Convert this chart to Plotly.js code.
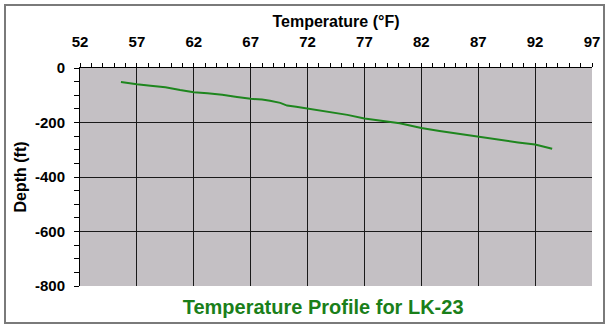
<!DOCTYPE html>
<html><head><meta charset="utf-8">
<script src="https://cdn.plot.ly/plotly-3.0.1.min.js"></script>
<style>html,body{margin:0;padding:0;background:#fff}#chart{width:612px;height:331px}</style>
</head><body><div id="chart"></div>
<script>
const temperatureF = [55.6, 56.3, 57.0, 58.2, 59.5, 60.8, 62.0, 63.2, 64.5, 65.8, 67.0, 68.0, 68.7, 69.6, 70.2, 71.0, 72.0, 73.2, 74.4, 75.5, 77.0, 78.5, 80.1, 81.0, 82.0, 83.6, 85.4, 87.0, 88.0, 89.2, 90.5, 92.0, 92.8, 93.5];
const depthFt =      [-51, -56, -60, -65, -71, -81, -89, -93, -98, -106, -113, -116, -120, -128, -138, -142, -149, -155, -163, -172, -185, -193, -203, -211, -220, -231, -242, -252, -258, -267, -273, -281, -288, -296];
const xTickVals = [52, 57, 62, 67, 72, 77, 82, 87, 92, 97];
const xTickText = ["52", "57", "62", "67", "72", "77", "82", "87", "92", "97"];
const yTickVals = [0, -200, -400, -600, -800];
const yTickText = ["0", "-200", "-400", "-600", "-800"];
const chartTitle = "Temperature Profile for LK-23";
const xTitle = "Temperature (°F)";
const yTitle = "Depth (ft)";

const bold = s => "<b>" + s + "</b>";
const tickFont = {family: "Liberation Sans, Arial, sans-serif", size: 15, color: "#000"};
const trace = {
  x: temperatureF, y: depthFt, type: "scatter", mode: "lines",
  line: {color: "#1e861e", width: 2}, hoverinfo: "skip"
};
const layout = {
  width: 612, height: 331,
  margin: {l: 80, r: 20, t: 68, b: 45},
  paper_bgcolor: "#ffffff", plot_bgcolor: "#c4c0c4",
  showlegend: false,
  font: {family: "Liberation Sans, Arial, sans-serif", color: "#000"},
  title: {text: bold(chartTitle), font: {size: 20, color: "#1a7f1a"},
          xref: "container", yref: "container", x: 0.528, xanchor: "center", y: 0.072, yanchor: "middle"},
  xaxis: {
    side: "top", range: [52, 97], tickvals: xTickVals, ticktext: xTickText.map(bold),
    showgrid: true, gridcolor: "#1a1a1a", gridwidth: 1,
    showline: true, linecolor: "#000", linewidth: 1,
    ticks: "outside", ticklen: 4, tickcolor: "#000",
    minor: {tick0: 52, dtick: 1, ticks: "outside", ticklen: 4, tickcolor: "#000", showgrid: false},
    tickfont: tickFont, ticklabelstandoff: 10,
    zeroline: false,
    title: {text: bold(xTitle), font: {size: 16, color: "#000"}, standoff: 1}
  },
  yaxis: {
    range: [-800, 0], tickvals: yTickVals, ticktext: yTickText.map(bold),
    showgrid: true, gridcolor: "#1a1a1a", gridwidth: 1,
    showline: true, linecolor: "#000", linewidth: 1,
    ticks: "outside", ticklen: 5, tickcolor: "#000",
    minor: {tick0: 0, dtick: 50, ticks: "outside", ticklen: 5, tickcolor: "#000", showgrid: false},
    tickfont: tickFont, ticklabelstandoff: 6,
    zeroline: false,
    title: {text: bold(yTitle), font: {size: 16, color: "#000"}, standoff: 4}
  },
  shapes: [{type: "rect", xref: "paper", yref: "paper",
    x0: (5 - 80) / 512, x1: (604 - 80) / 512, y0: (286 - 323) / 218, y1: (286 - 5) / 218,
    line: {color: "#7a7a7a", width: 2}, fillcolor: "rgba(0,0,0,0)", layer: "below"}]
};
Plotly.newPlot("chart", [trace], layout, {staticPlot: true, displayModeBar: false});
</script></body></html>
